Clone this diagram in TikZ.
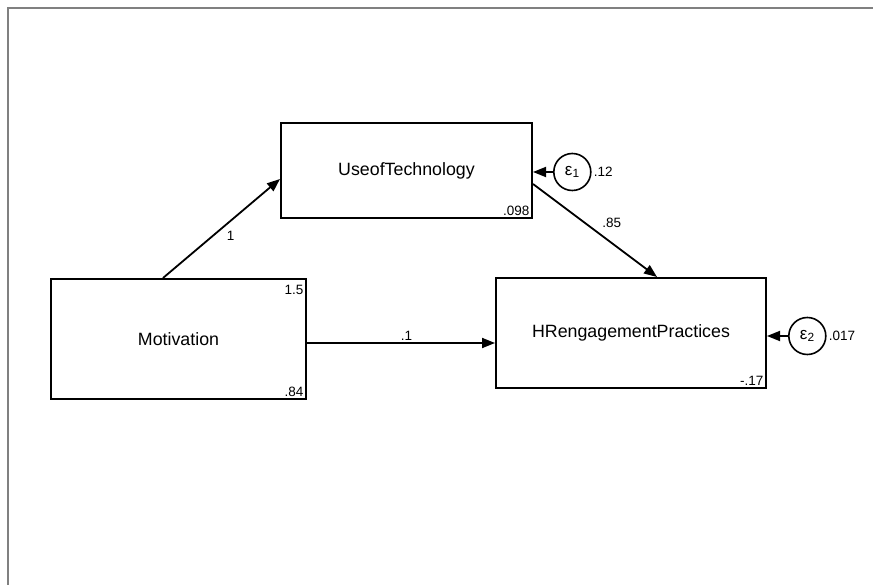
\documentclass[tikz,border=0pt]{standalone}
\usepackage{fontspec}
\setmainfont{Liberation Sans}
\usepackage{tikz}
\usetikzlibrary{arrows.meta, positioning}

\begin{document}
\begin{tikzpicture}[
        x=1pt, y=-1pt, % pixel-like units, y grows downwards
        varbox/.style={rectangle, draw, line width=2pt, inner sep=0pt,
                       font=\fontsize{17.8}{20}\selectfont},
        errnode/.style={circle, draw, line width=1.6pt, minimum size=37pt, inner sep=0pt,
                        font=\fontsize{17}{19}\selectfont},
        coef/.style={font=\fontsize{13.5}{15}\selectfont, inner sep=1.5pt},
        corner/.style={font=\fontsize{13.5}{15}\selectfont, inner sep=3.5pt},
        arrow/.style={line width=1.8pt, -{Triangle[length=13pt, width=10pt]}},
        frame/.style={draw=gray, line width=1.1pt}
      ]
      \useasboundingbox (0,0) rectangle (873,585);
      \draw [frame] (8,585) -- (8,8) -- (873,8);

      % --- Observed variables ---
      \node (tech) [varbox, minimum width=251pt, minimum height=95pt] at (406.5,170.5) {UseofTechnology};
      \node (motiv) [varbox, minimum width=255pt, minimum height=120pt] at (178.5,339) {Motivation};
      \node (hrep) [varbox, minimum width=270pt, minimum height=110pt] at (631,333) {HRengagementPractices};

      % --- Error terms ---
      \node (eps1) [errnode, right=20pt of tech, yshift=-1.5pt] {ε\textsubscript{1}};
      \node (eps2) [errnode, right=21pt of hrep, yshift=-3pt] {ε\textsubscript{2}};

      % --- Means, variances, intercepts ---
      \node (tech_cons) [corner, anchor=south east] at (tech.south east) {.098};
      \node (motiv_mean) [corner, anchor=north east, yshift=-3.5pt] at (motiv.north east) {1.5};
      \node (motiv_var) [corner, anchor=south east] at (motiv.south east) {.84};
      \node (hrep_cons) [corner, anchor=south east] at (hrep.south east) {-.17};
      \node (eps1_var) [coef, anchor=west, inner sep=2pt] at (eps1.east) {.12};
      \node (eps2_var) [coef, anchor=west, inner sep=2pt] at (eps2.east) {.017};

      % --- Paths ---
      \draw [arrow] ([xshift=-15.5pt]motiv.north) -- ([yshift=-8.5pt]tech.west)
            node (c_mt) [coef, midway, anchor=north west, xshift=3pt] {1};
      \draw [arrow] ([yshift=-13.5pt]tech.east) -- ([xshift=26pt]hrep.north)
            node (c_th) [coef, midway, anchor=south west, xshift=5pt] {.85};
      \draw [arrow] ([yshift=-4pt]motiv.east) -- ([yshift=-10pt]hrep.west)
            node (c_mh) [coef, midway, anchor=south, xshift=5.5pt] {.1};
      \draw [arrow] (eps1) -- (eps1 -| tech.east);
      \draw [arrow] (eps2) -- (eps2 -| hrep.east);

    \end{tikzpicture}
\end{document}
